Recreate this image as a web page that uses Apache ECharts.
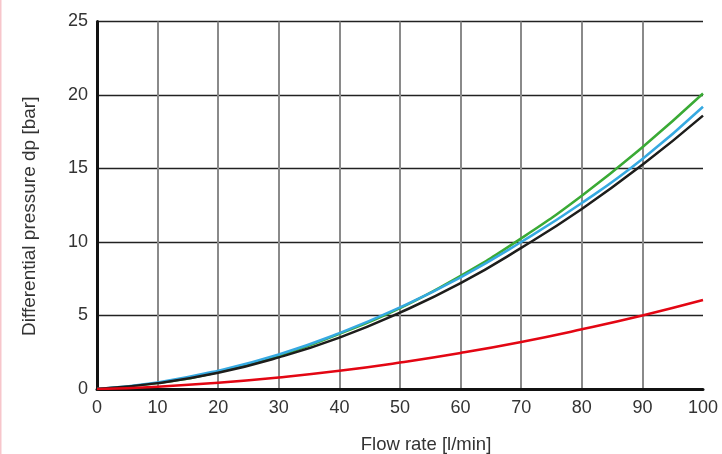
<!DOCTYPE html>
<html>
<head>
<meta charset="utf-8">
<script src="https://cdn.jsdelivr.net/npm/echarts@6/dist/echarts.min.js"></script>
<style>
html,body{margin:0;padding:0;background:#fff;}
#c{width:722px;height:454px;}
</style>
</head>
<body>
<div id="c"></div>
<script>
const flowRates = [0, 10, 20, 30, 40, 50, 60, 70, 80, 90, 100];
const greenValues = [0, 0.4, 1.15, 2.25, 3.75, 5.5, 7.7, 10.25, 13.15, 16.45, 20.1];
const blueValues  = [0, 0.45, 1.25, 2.35, 3.8, 5.55, 7.6, 10.0, 12.65, 15.65, 19.2];
const blackValues = [0, 0.4, 1.1, 2.15, 3.5, 5.2, 7.2, 9.6, 12.25, 15.25, 18.6];
const redValues   = [0, 0.16, 0.43, 0.79, 1.24, 1.8, 2.45, 3.2, 4.06, 5.0, 6.05];
const xTicks = { min: 0, max: 100, interval: 10 };
const yTicks = { min: 0, max: 25, interval: 5 };

function pairs(vals){ return flowRates.map((x,i)=>[x, vals[i]]); }

const chart = echarts.init(document.getElementById('c'), null, {renderer:'canvas'});
const font = 'Liberation Sans, Arial, sans-serif';
function line(name, vals, color){
  return { name, type:'line', data:pairs(vals), smooth:true, symbol:'none',
    lineStyle:{color, width:2.5}, itemStyle:{color}, z:3 };
}
chart.setOption({
  animation:false,
  backgroundColor:'#fff',
  graphic:[{type:'rect', left:0, top:0, shape:{width:1.5, height:454}, style:{fill:'#f7c6cb'}}],
  grid:{left:97, right:19, top:21.5, bottom:65, containLabel:false, outerBoundsMode:'none'},
  xAxis:{
    type:'value', min:xTicks.min, max:xTicks.max, interval:xTicks.interval,
    name:'Flow rate [l/min]', nameLocation:'middle', nameGap:46,
    nameTextStyle:{fontFamily:font, fontSize:18.5, color:'#333', padding:[0,0,0,52]},
    axisLine:{show:true, lineStyle:{color:'#111', width:3}},
    axisTick:{show:false},
    axisLabel:{fontFamily:font, fontSize:18, color:'#333', margin:10},
    splitLine:{show:true, showMinLine:false, showMaxLine:false, lineStyle:{color:'#8a8a8a', width:2}}
  },
  yAxis:{
    type:'value', min:yTicks.min, max:yTicks.max, interval:yTicks.interval,
    name:'Differential pressure dp [bar]', nameLocation:'middle', nameGap:58,
    nameTextStyle:{fontFamily:font, fontSize:19, color:'#333', padding:[0,22,0,0]},
    axisLine:{show:true, lineStyle:{color:'#111', width:3}},
    axisTick:{show:false},
    axisLabel:{fontFamily:font, fontSize:18, color:'#333', margin:9},
    splitLine:{show:true, showMinLine:false, lineStyle:{color:'#222', width:1.3}}
  },
  series:[
    line('green', greenValues, '#3aaa35'),
    line('blue', blueValues, '#36a9e1'),
    line('black', blackValues, '#1d1d1b'),
    line('red', redValues, '#e30613')
  ]
});
</script>
</body>
</html>
